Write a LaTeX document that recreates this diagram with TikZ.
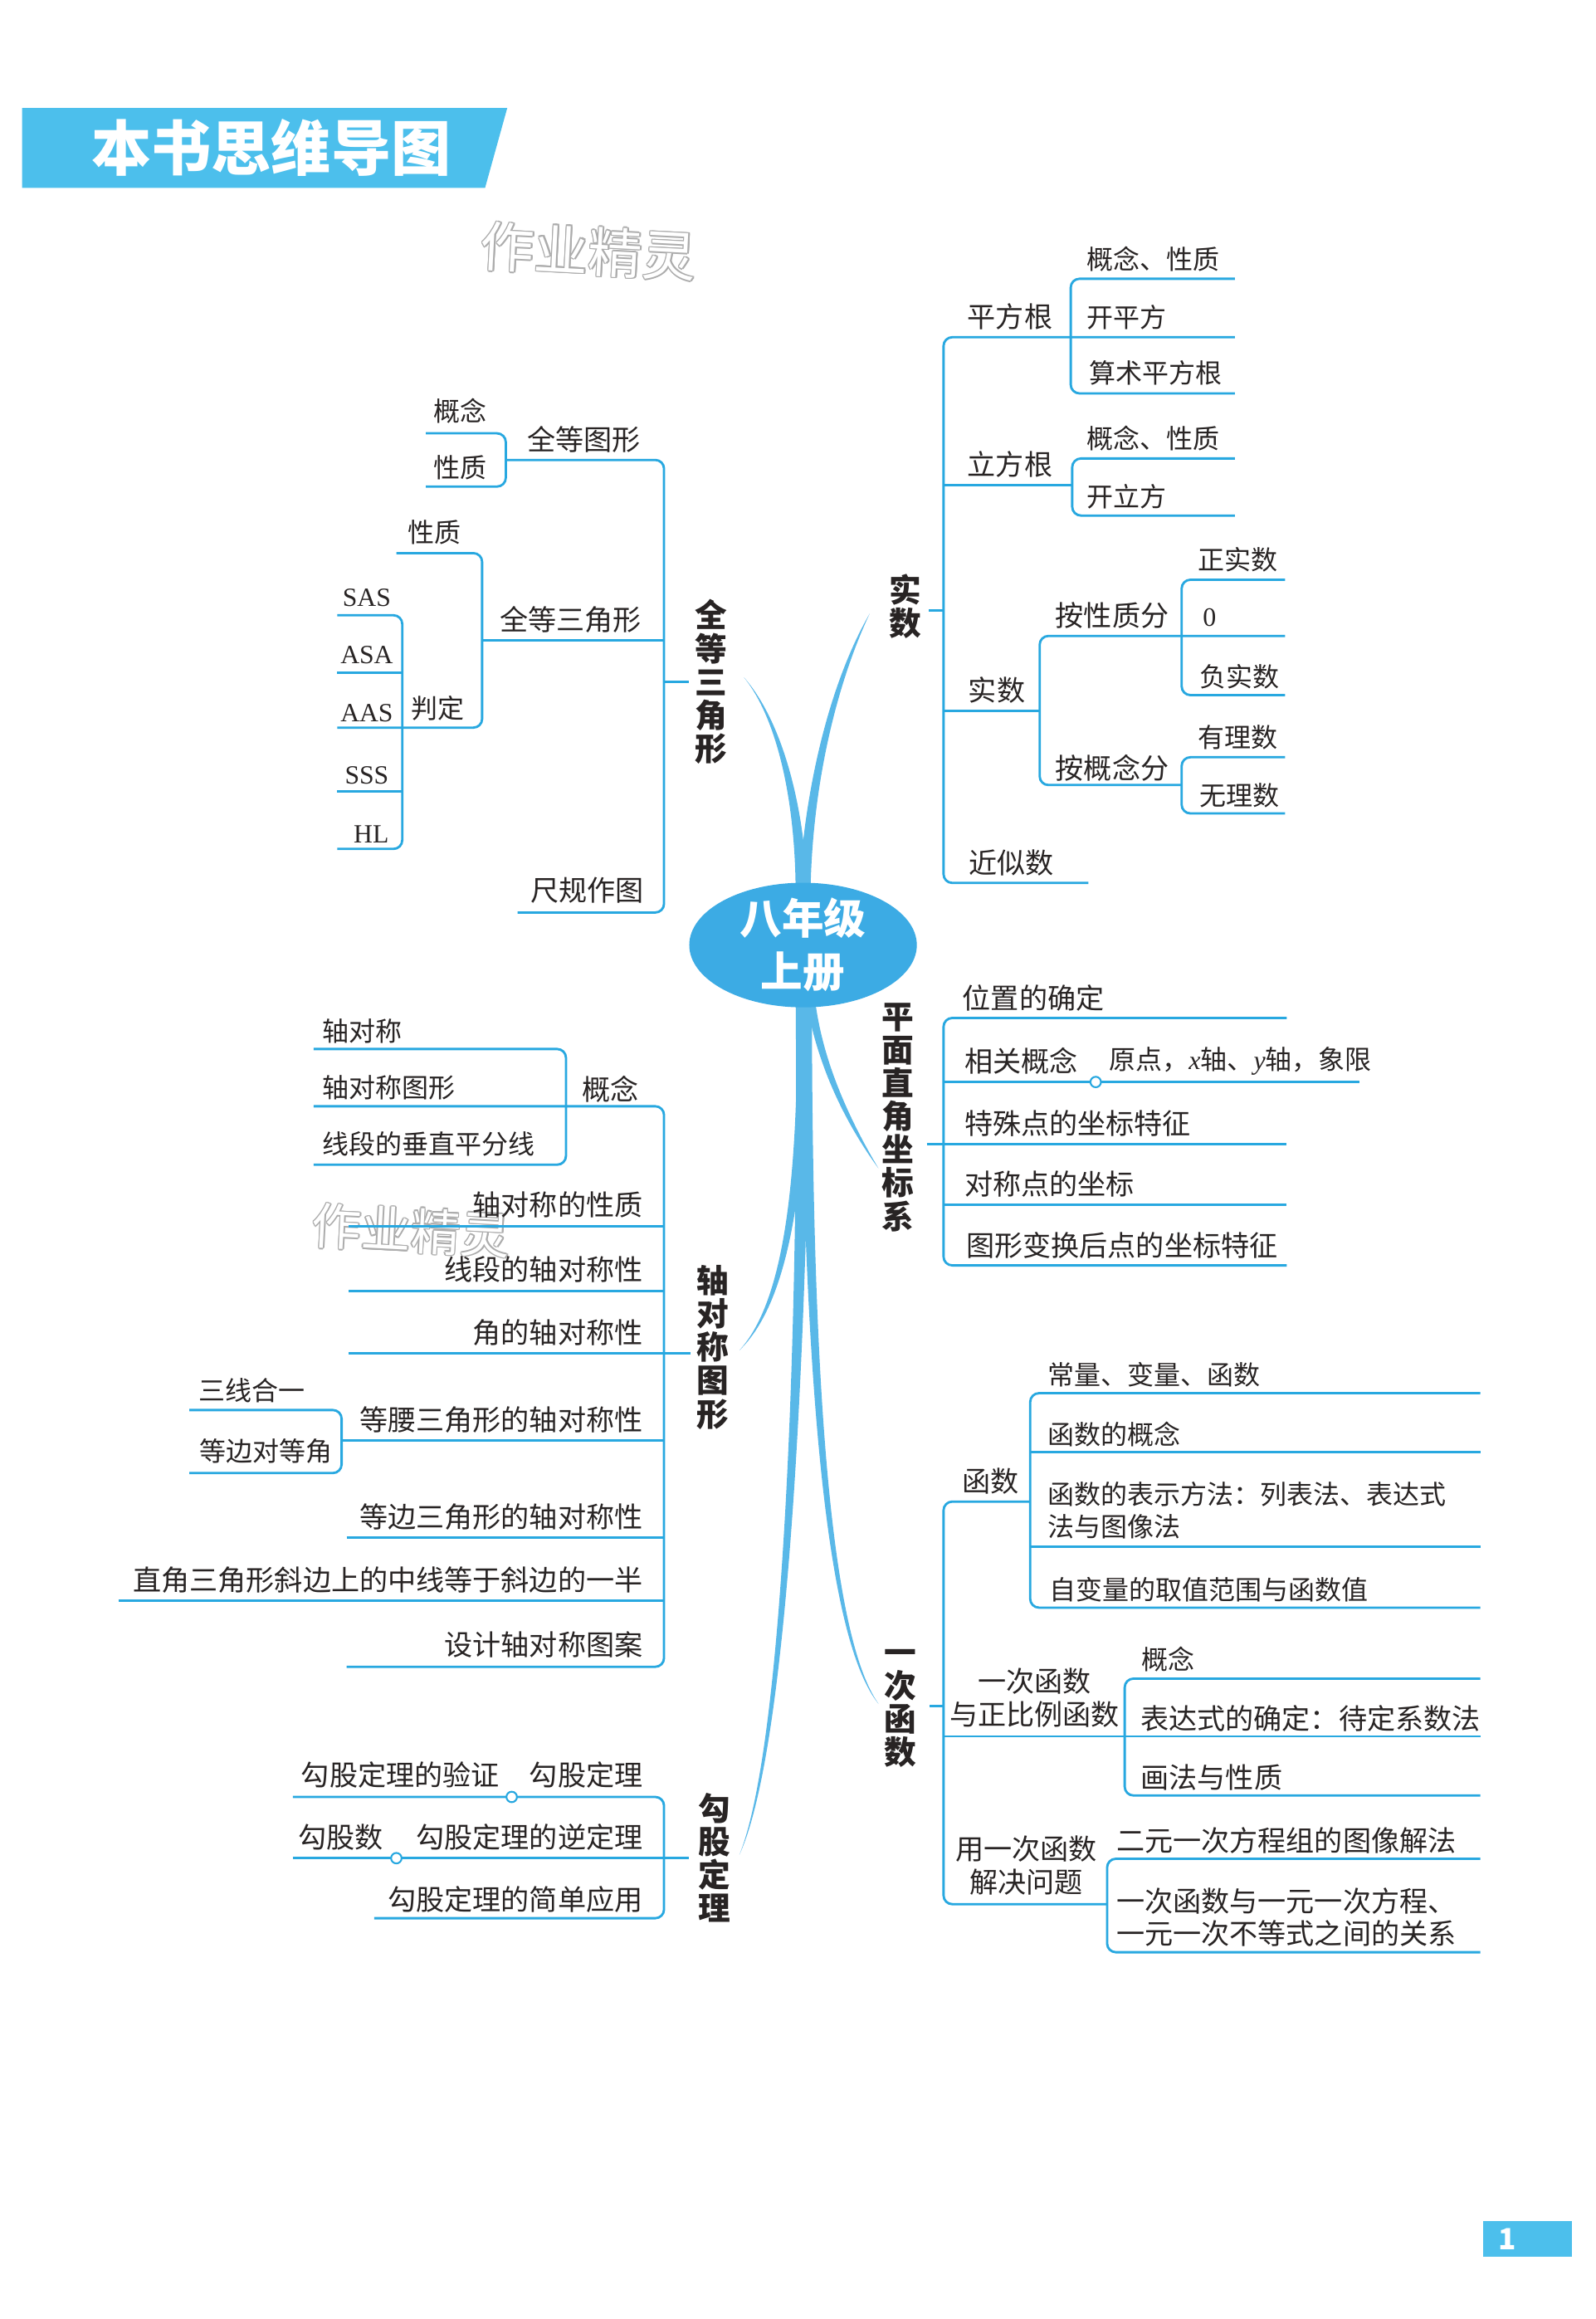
\documentclass[tikz,border=0pt]{standalone}
\usepackage{fontspec}
\setmainfont{Noto Sans CJK SC}
\newfontfamily\tms{Liberation Serif}
\usepackage{tikz}
\usetikzlibrary{positioning,shapes.geometric,calc}
\definecolor{mapblue}{RGB}{40,168,224}
\definecolor{bannerblue}{RGB}{76,191,236}
\definecolor{ovalblue}{RGB}{60,171,228}
\definecolor{inkgray}{RGB}{40,36,36}
\tikzset{
  branch/.style={draw=mapblue, line width=0.8pt, rounded corners=3pt},
  joint/.style={circle, draw=mapblue, fill=white, line width=0.6pt,
                inner sep=0pt, minimum size=3.6pt},
  item/.style={inner sep=0pt, text=inkgray, font=\fontsize{9.7}{11.3}\selectfont},
  leaf/.style={inner sep=0pt, text=inkgray, font=\fontsize{9.1}{11.3}\selectfont},
  latin/.style={inner sep=0pt, text=inkgray, font=\tms\fontsize{9}{11}\selectfont},
  mainlabel/.style={inner sep=0pt, text=inkgray, align=center,
                    font=\bfseries\fontsize{11}{11.4}\selectfont},
  trunk/.style={fill=ovalblue!85, draw=none},
  wmark/.style={inner sep=0pt, font=\fontsize{18.5}{18.5}\selectfont, rotate=-3}
}

\begin{document}
\begin{tikzpicture}[x=0.017813cm, y=-0.017813cm]
    \useasboundingbox (0,0) rectangle (1079,1568);
    \fill[white] (0,0) rectangle (1079,1568);

    % Title banner
    \fill[bannerblue] (15,73) -- (343,73) -- (328,127) -- (15,127) -- cycle;
    \node[inner sep=0pt, text=white, font=\bfseries\fontsize{20.5}{20.5}\selectfont]
      (title) at (183.5,100) {本书思维导图};

    % Watermarks
    \foreach \a in {0,45,...,315} {
      \node[wmark, text=gray!65] (wmA\a) at ($(398,170)+(\a:0.45pt)$) {作业精灵};
      \node[wmark, text=gray!65, font=\fontsize{17}{17}\selectfont]
        (wmB\a) at ($(278,832)+(\a:0.45pt)$) {作业精灵};
    }
    \node[wmark, text=white] (wmA) at (398,170) {作业精灵};
    \node[wmark, text=white, font=\fontsize{17}{17}\selectfont] (wmB) at (278,832) {作业精灵};

    % Trunks from the centre
    \fill[trunk] (538,605) .. controls (538,540) and (525,485) .. (503,458)
      .. controls (527,485) and (544,540) .. (546,605) -- cycle;
    \fill[trunk] (540,605) .. controls (544,530) and (562,460) .. (588,415)
      .. controls (566,462) and (549,530) .. (548,605) -- cycle;
    \fill[trunk] (545,675) .. controls (552,720) and (572,760) .. (594,790)
      .. controls (575,758) and (556,718) .. (551,675) -- cycle;
    \fill[trunk] (539,675) .. controls (540,800) and (530,880) .. (500,913)
      .. controls (534,880) and (546,800) .. (547,675) -- cycle;
    \fill[trunk] (541,675) .. controls (544,950) and (560,1110) .. (594,1152)
      .. controls (563,1108) and (549,950) .. (549,675) -- cycle;
    \fill[trunk] (538,675) .. controls (540,900) and (530,1180) .. (500,1254)
      .. controls (534,1180) and (546,900) .. (548,675) -- cycle;

    % Centre
    \node[ellipse, fill=ovalblue, minimum width=2.74cm, minimum height=1.5cm,
          inner sep=0pt] (book) at (543,639) {};
    \node[text=white, align=center, inner sep=0pt,
          font=\bfseries\fontsize{14.4}{18.2}\selectfont] (booktx) at (book.center) {八年级\\上册};

    % ---------- 全等三角形 ----------
    \node[mainlabel] (qd) at (481,461) {全\\等\\三\\角\\形};
    \draw[branch] (449,461) -- ([xshift=-2pt]qd.west);
    \draw[branch] (342,311) -- (449,311) -- (449,617) -- (350,617);
    \draw[branch] (288,293) -- (342,293) -- (342,329) -- (288,329);
    \draw[branch] (326,433) -- (449,433);
    \draw[branch] (268,374) -- (326,374) -- (326,492) -- (228,492);
    \draw[branch] (228,416) -- (272,416) -- (272,574) -- (228,574);
    \draw[branch] (228,455) -- (272,455);
    \draw[branch] (228,535) -- (272,535);
    \node[item] (qdtx) at (395,297) {全等图形};
    \node[leaf] (qdgn) at (311,278) {概念};
    \node[leaf] (qdxz) at (311,316) {性质};
    \node[item] (qdsj) at (386,419) {全等三角形};
    \node[leaf] (sjxz) at (294,360) {性质};
    \node[leaf] (sjpd) at (296,479) {判定};
    \node[latin] (sas) at (248,404) {SAS};
    \node[latin] (asa) at (248,443) {ASA};
    \node[latin] (aas) at (248,482) {AAS};
    \node[latin] (sss) at (248,524) {SSS};
    \node[latin] (hl)  at (251,564) {HL};
    \node[item] (cg) at (397,602) {尺规作图};

    % ---------- 实数 ----------
    \node[mainlabel] (ss) at (612,410) {实\\数};
    \draw[branch] (628,412.6) -- (638,412.6);
    \draw[branch] (835,228) -- (638,228) -- (638,597) -- (736,597);
    \draw[branch] (835,188.5) -- (724,188.5) -- (724,266) -- (835,266);
    \draw[branch] (638,328.2) -- (725,328.2);
    \draw[branch] (835,310) -- (725,310) -- (725,348.6) -- (835,348.6);
    \draw[branch] (638,480.7) -- (703,480.7);
    \draw[branch] (869,430) -- (703,430) -- (703,530.8) -- (799,530.8);
    \draw[branch] (869,392) -- (799,392) -- (799,470) -- (869,470);
    \draw[branch] (869,512) -- (799,512) -- (799,550) -- (869,550);
    \node[item] (pfg) at (683,214.3) {平方根};
    \node[leaf, anchor=west] (pfg1) at (734.4,174.9) {概念、性质};
    \node[leaf, anchor=west] (pfg2) at (734.4,214.3) {开平方};
    \node[leaf, anchor=west] (pfg3) at (736,252.3) {算术平方根};
    \node[item] (lfg) at (683,314) {立方根};
    \node[leaf, anchor=west] (lfg1) at (734.4,296.3) {概念、性质};
    \node[leaf, anchor=west] (lfg2) at (734.4,335.8) {开立方};
    \node[item] (ssub) at (674,466.4) {实数};
    \node[item] (axz) at (752,416.3) {按性质分};
    \node[leaf] (zss) at (837,378.3) {正实数};
    \node[leaf, anchor=west, font=\tms\fontsize{9.1}{11}\selectfont] (zero) at (813,417.8) {0};
    \node[leaf] (fss) at (838,457.3) {负实数};
    \node[item] (agn) at (752,519.5) {按概念分};
    \node[leaf] (yls) at (837,498.3) {有理数};
    \node[leaf] (wls) at (838,537.7) {无理数};
    \node[item] (jss) at (684,583.3) {近似数};

    % ---------- 平面直角坐标系 ----------
    \node[mainlabel] (pm) at (607,755.5) {平\\面\\直\\角\\坐\\标\\系};
    \draw[branch] (870,688.3) -- (638,688.3) -- (638,855.6) -- (870,855.6);
    \draw[branch] (638,731.6) -- (919.5,731.6);
    \draw[branch] (626.7,773.7) -- (870,773.7);
    \draw[branch] (638,814.8) -- (870,814.8);
    \node[joint] (jpm) at (740.9,731.6) {};
    \node[item, anchor=west] (pm1) at (650.5,674.8) {位置的确定};
    \node[item, anchor=west] (pm2) at (651.8,717.6) {相关概念};
    \node[leaf, anchor=west] (pm2b) at (749.6,717.6)
      {原点，{\tms\itshape x}轴、{\tms\itshape y}轴，象限};
    \node[item, anchor=west] (pm3) at (651.8,759.7) {特殊点的坐标特征};
    \node[item, anchor=west] (pm4) at (651.8,800.8) {对称点的坐标};
    \node[item, anchor=west] (pm5) at (653,841.9) {图形变换后点的坐标特征};

    % ---------- 轴对称图形 ----------
    \node[mainlabel] (zd) at (482,911) {轴\\对\\称\\图\\形};
    \draw[branch] (212,748) -- (449,748) -- (449,1127) -- (234.4,1127);
    \draw[branch] (212,709.3) -- (382.7,709.3) -- (382.7,787.5) -- (212,787.5);
    \draw[branch] (235.6,829) -- (449,829);
    \draw[branch] (235.6,873) -- (449,873);
    \draw[branch] (235.6,915) -- ([xshift=-2pt]zd.west |- 0,915);
    \draw[branch] (231,973.8) -- (449,973.8);
    \draw[branch] (128,953.4) -- (231,953.4) -- (231,996) -- (128,996);
    \draw[branch] (234.4,1039.6) -- (449,1039.6);
    \draw[branch] (80,1082.4) -- (449,1082.4);
    \node[leaf, anchor=west] (zd1) at (217.4,697.2) {轴对称};
    \node[leaf, anchor=west] (zd2) at (217.4,735.3) {轴对称图形};
    \node[leaf, anchor=west] (zd3) at (217.4,773.5) {线段的垂直平分线};
    \node[item] (zdgn) at (412.6,736.3) {概念};
    \node[item, anchor=east] (zd4) at (435,814.5) {轴对称的性质};
    \node[item, anchor=east] (zd5) at (435,858.2) {线段的轴对称性};
    \node[item, anchor=east] (zd6) at (435,901) {角的轴对称性};
    \node[leaf] (sxhy) at (170.5,940.4) {三线合一};
    \node[leaf] (dbdj) at (179.6,981) {等边对等角};
    \node[item, anchor=east] (zd7) at (435,960) {等腰三角形的轴对称性};
    \node[item, anchor=east] (zd8) at (435,1025.6) {等边三角形的轴对称性};
    \node[item, anchor=east] (zd9) at (435,1068.5) {直角三角形斜边上的中线等于斜边的一半};
    \node[item, anchor=east] (zd10) at (435,1112) {设计轴对称图案};

    % ---------- 勾股定理 ----------
    \node[mainlabel] (gg) at (483,1256) {勾\\股\\定\\理};
    \draw[branch] (198,1215) -- (449,1215) -- (449,1297) -- (253,1297);
    \draw[branch] (198,1256.4) -- ([xshift=-3pt]gg.west |- 0,1256.4);
    \node[joint] (jgg1) at (346,1215) {};
    \node[joint] (jgg2) at (268,1256.4) {};
    \node[item] (gg1) at (270.7,1200) {勾股定理的验证};
    \node[item, anchor=east] (gg2) at (435,1200) {勾股定理};
    \node[item] (gg3) at (230.6,1242.4) {勾股数};
    \node[item, anchor=east] (gg4) at (435,1242.4) {勾股定理的逆定理};
    \node[item, anchor=east] (gg5) at (435,1284.4) {勾股定理的简单应用};

    % ---------- 一次函数 ----------
    \node[mainlabel] (yc) at (609,1155) {一\\次\\函\\数};
    \draw[branch] (628.5,1153.6) -- (638,1153.6);
    \draw[branch] (696.6,1015.3) -- (638,1015.3) -- (638,1287.5) -- (748.6,1287.5);
    \draw[branch] (1001,942) -- (696.6,942) -- (696.6,1087) -- (1001,1087);
    \draw[branch] (696.6,981.8) -- (1001,981.8);
    \draw[branch] (696.6,1046) -- (1001,1046);
    \draw[branch] (638,1174) -- (1001,1174);
    \draw[branch] (1001,1135) -- (760.5,1135) -- (760.5,1214) -- (1001,1214);
    \draw[branch] (1001,1256.8) -- (748.6,1256.8) -- (748.6,1320) -- (1001,1320);
    \node[item] (hs) at (670,1001.4) {函数};
    \node[leaf, anchor=west] (hs1) at (708,929.2) {常量、变量、函数};
    \node[leaf, anchor=west] (hs2) at (708,969.6) {函数的概念};
    \node[leaf, anchor=west, align=left] (hs3) at (708,1021.2)
      {函数的表示方法：列表法、表达式\\法与图像法};
    \node[leaf, anchor=west] (hs4) at (709,1074.8) {自变量的取值范围与函数值};
    \node[item, align=center] (yczb) at (699.5,1148) {一次函数\\与正比例函数};
    \node[leaf] (yc1) at (790,1122) {概念};
    \node[item, anchor=west] (yc2) at (770.8,1162) {表达式的确定：待定系数法};
    \node[item, anchor=west] (yc3) at (771,1202) {画法与性质};
    \node[item, align=center] (ycjj) at (694,1261.5) {用一次函数\\解决问题};
    \node[item, anchor=west] (yc4) at (754.5,1244.7) {二元一次方程组的图像解法};
    \node[item, anchor=west, align=left] (yc5) at (754.5,1296.3)
      {一次函数与一元一次方程、\\一元一次不等式之间的关系};

    % Page number
    \fill[bannerblue] (1003,1502) rectangle (1063,1526);
    \node[inner sep=0pt, text=white, font=\bfseries\fontsize{10}{10}\selectfont] (pg) at (1019,1514) {1};
  \end{tikzpicture}
\end{document}
